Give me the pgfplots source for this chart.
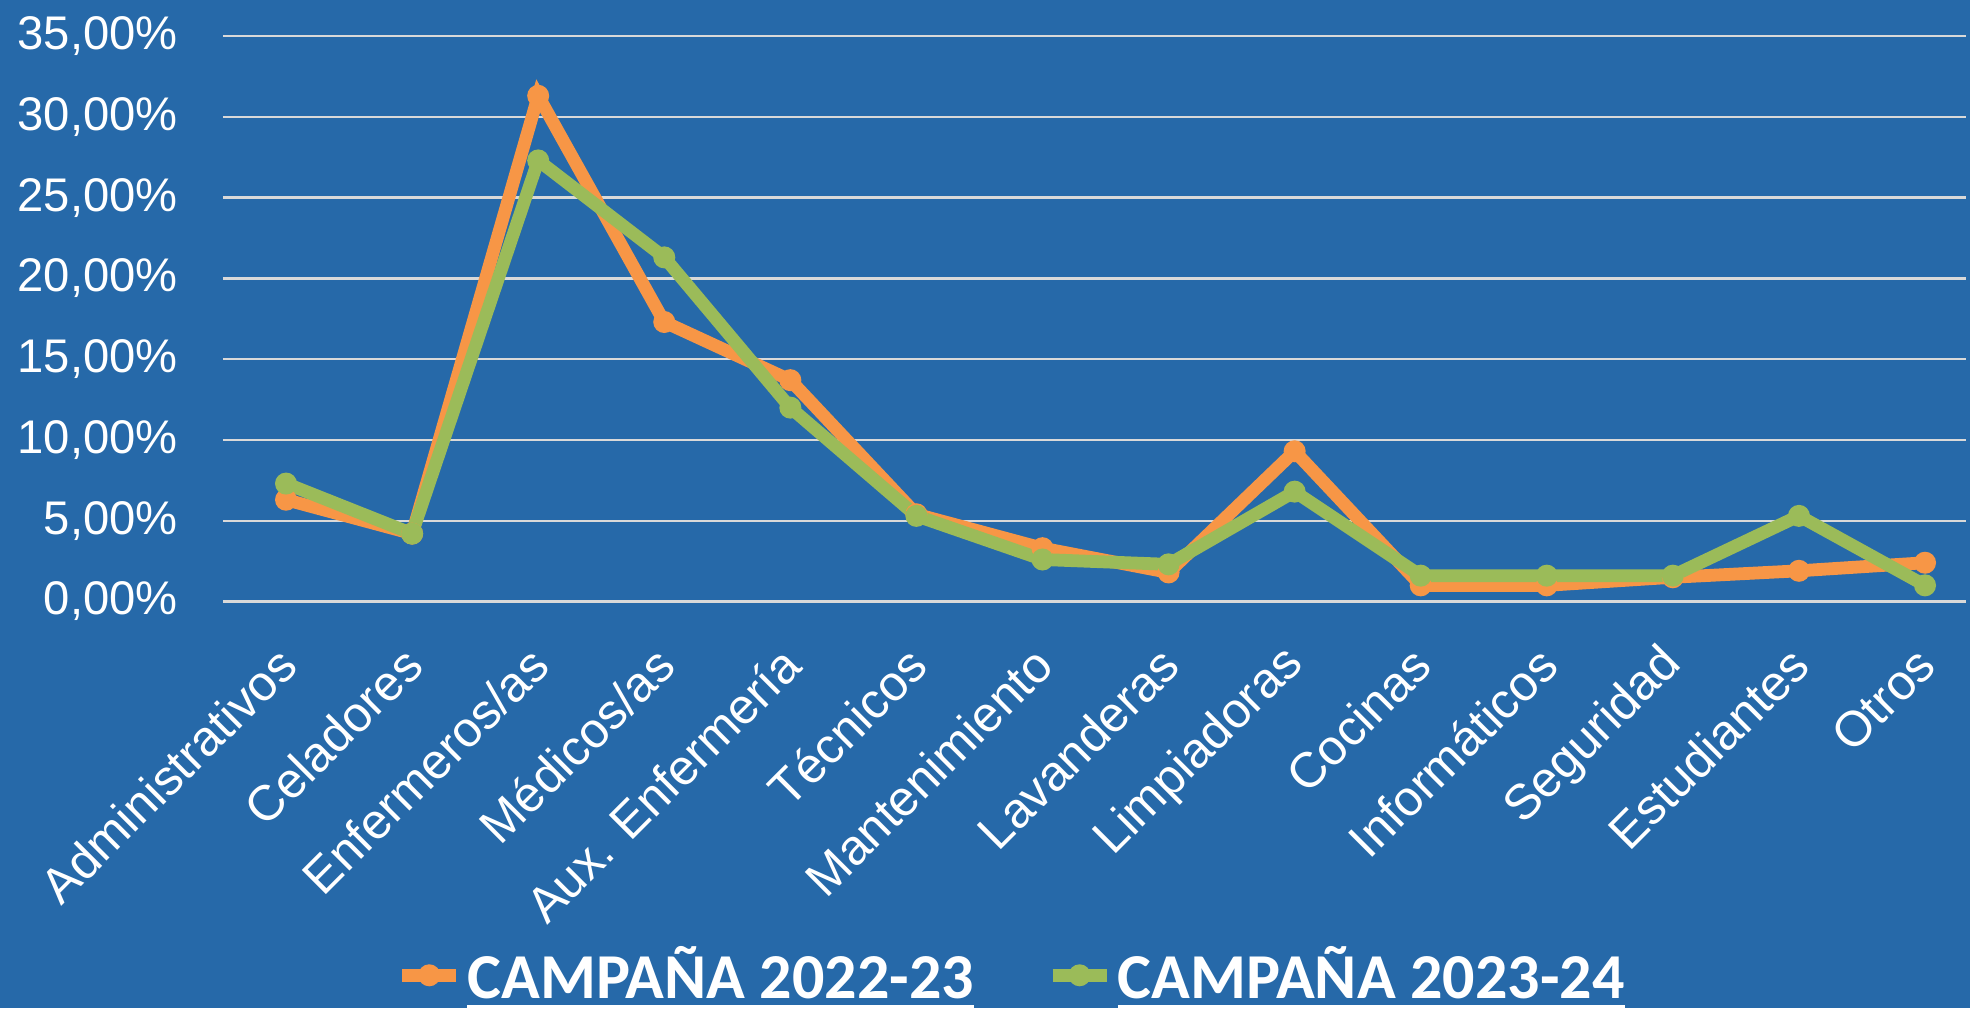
\documentclass[border=0pt]{standalone}
\usepackage{pgfplots}
\pgfplotsset{compat=1.18}
\usepackage{fontspec}
\setmainfont{Liberation Sans}
\newfontfamily\legfont{Carlito}
\definecolor{bg}{RGB}{38,105,169}
\definecolor{orng}{RGB}{247,150,70}
\definecolor{grn}{RGB}{155,187,89}
\definecolor{gridc}{RGB}{217,217,217}
\newsavebox\ulbox
\newcommand\ul[1]{\sbox\ulbox{#1}\rlap{\raisebox{0pt}[0pt][0pt]{\rule[-3.5pt]{\wd\ulbox}{1.75pt}}}\usebox\ulbox}
\begin{document}
\begin{tikzpicture}
\fill[bg] (-55.75pt,-101.625pt) rectangle (436.75pt,150.375pt);
\begin{axis}[
  scale only axis, width=435.75pt, height=141.375pt,
  xmin=-0.5, xmax=13.325, ymin=0, ymax=35,
  axis line style={draw=none},
  major tick length=0pt,
  tick style={draw=none},
  clip=false,
  ytick={0,5,10,15,20,25,30,35},
  yticklabels={{0,00\%},{5,00\%},{10,00\%},{15,00\%},{20,00\%},{25,00\%},{30,00\%},{35,00\%}},
  ymajorgrids, grid style={gridc, line width=0.6pt},
  xtick={0,1,2,3,4,5,6,7,8,9,10,11,12,13},
  xticklabels={Administrativos, Celadores, Enfermeros/as, Médicos/as, Aux. Enfermería, Técnicos, Mantenimiento, Lavanderas, Limpiadoras, Cocinas, Informáticos, Seguridad, Estudiantes, Otros},
  xticklabel style={xshift=0.4pt, yshift=-13.6pt, rotate=45, anchor=east, inner sep=0pt, font=\fontsize{12.4}{14}\selectfont, text=white},
  yticklabel style={xshift=-11.1pt, anchor=east, inner sep=0pt, font=\fontsize{11.8}{14}\selectfont, text=white},
  legend columns=2,
  legend image code/.code={\draw[#1, mark repeat=2, mark phase=2] plot coordinates {(0pt,0pt) (6.75pt,0pt) (13.5pt,0pt)};},
  legend style={at={(0.0992,-0.661)}, anchor=west, draw=none, fill=none, inner sep=0pt, outer sep=0pt,
    nodes={inner sep=0pt, text=white, font=\legfont\bfseries\fontsize{16}{18}\selectfont},
    column sep=1.2pt, /tikz/every even column/.append style={column sep=18pt}},
]
\addplot[orng, line width=3.2pt, mark=*, mark size=2.5pt, mark options={line width=0.5pt, fill=orng}] coordinates {
(0,6.3) (1,4.2) (2,31.3) (3,17.3) (4,13.7) (5,5.4) (6,3.3) (7,1.8) (8,9.3) (9,1.0) (10,1.0) (11,1.5) (12,1.9) (13,2.4)};
\addlegendentry{\ul{CAMPAÑA 2022-23}}
\addplot[grn, line width=3.2pt, mark=*, mark size=2.5pt, mark options={line width=0.5pt, fill=grn}] coordinates {
(0,7.3) (1,4.2) (2,27.3) (3,21.3) (4,12.0) (5,5.3) (6,2.6) (7,2.3) (8,6.8) (9,1.6) (10,1.6) (11,1.6) (12,5.3) (13,1.0)};
\addlegendentry{\ul{CAMPAÑA 2023-24}}
\end{axis}
\pgfresetboundingbox
\path[use as bounding box] (-55.75pt,-101.625pt) rectangle (436.75pt,150.375pt);
\end{tikzpicture}
\end{document}
